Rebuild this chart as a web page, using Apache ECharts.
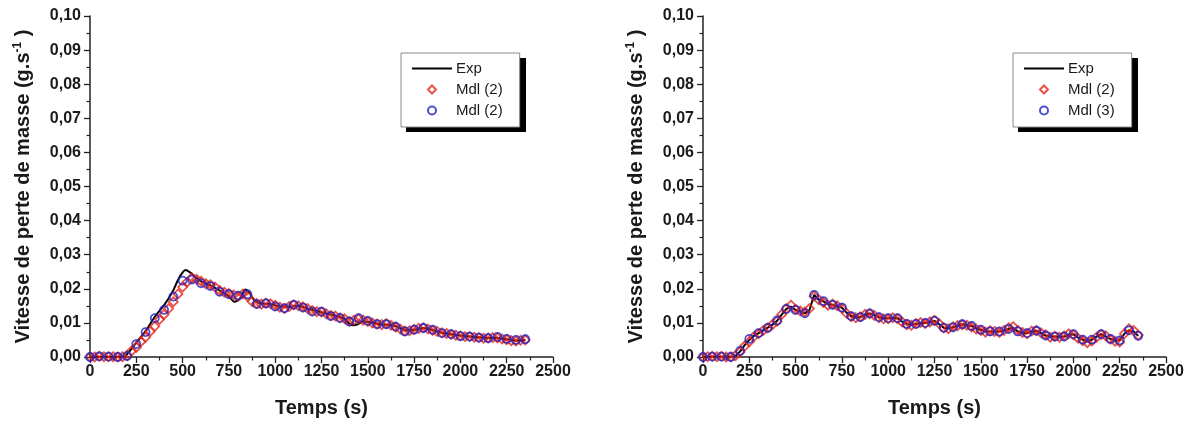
<!DOCTYPE html>
<html><head><meta charset="utf-8">
<script src="https://cdn.jsdelivr.net/npm/echarts@6/dist/echarts.min.js"></script>
<style>html,body{margin:0;padding:0;background:#fff}#c{width:1190px;height:423px}</style>
</head><body><div id="c"></div>
<script>
// ---- time grids (s) ----
const t25 = [0,25,50,75,100,125,150,175,200,225,250,275,300,325,350,375,400,425,450,475,500,525,550,575,600,625,650,675,700,725,750,775,800,825,850,875,900,925,950,975,1000,1025,1050,1075,1100,1125,1150,1175,1200,1225,1250,1275,1300,1325,1350,1375,1400,1425,1450,1475,1500,1525,1550,1575,1600,1625,1650,1675,1700,1725,1750,1775,1800,1825,1850,1875,1900,1925,1950,1975,2000,2025,2050,2075,2100,2125,2150,2175,2200,2225,2250,2275,2300,2325,2350];
const t50 = [0,50,100,150,200,250,300,350,400,450,500,550,600,650,700,750,800,850,900,950,1000,1050,1100,1150,1200,1250,1300,1350,1400,1450,1500,1550,1600,1650,1700,1750,1800,1850,1900,1950,2000,2050,2100,2150,2200,2250,2300,2350];

// ---- left panel ----
const leftExpT = [0,100,180,200,250,300,350,400,425,450,475,500,515,540,575,600,650,700,750,780,810,840,860,890,925,975,1025,1075,1125,1175,1225,1275,1325,1375,1400,1425,1450,1475,1525,1575,1625,1675,1700,1750,1800,1850,1900,1950,2000,2050,2100,2150,2200,2250,2300,2350];
const leftExpV = [0,0,0,0.0008,0.0042,0.0076,0.0118,0.0152,0.0172,0.0196,0.0226,0.0248,0.0255,0.0248,0.0232,0.0222,0.021,0.0195,0.0178,0.0162,0.0172,0.0198,0.0188,0.0165,0.0157,0.0155,0.0148,0.0147,0.015,0.0142,0.0134,0.0128,0.0121,0.0112,0.0098,0.0093,0.0097,0.0104,0.0101,0.0095,0.0094,0.0085,0.0078,0.008,0.0085,0.0079,0.0071,0.0067,0.0063,0.006,0.0058,0.0056,0.0056,0.0052,0.0048,0.005];
const leftMdlA = [0,0,0.0002,0.0001,0.0001,0.0001,0,0.0001,0.0004,0.0018,
  0.0028,0.0045,0.0058,0.0075,0.009,0.011,0.0125,0.0142,0.0162,0.0185,
  0.0205,0.022,0.0232,0.0228,0.0222,0.0215,0.0212,0.0205,0.0195,0.019,
  0.0186,0.0182,0.0178,0.0185,0.0178,0.0163,0.0157,0.0155,0.0158,0.0156,
  0.0152,0.0146,0.0142,0.0148,0.0153,0.015,0.0147,0.0142,0.0136,0.0133,
  0.0132,0.0127,0.0122,0.012,0.0115,0.0112,0.0105,0.0108,0.0112,0.0108,
  0.0104,0.01,0.0097,0.0095,0.0098,0.0093,0.0088,0.0082,0.0076,0.0077,
  0.0081,0.0084,0.0086,0.0082,0.0078,0.0075,0.0071,0.0069,0.0066,0.0064,
  0.0062,0.006,0.006,0.0058,0.0057,0.0055,0.0056,0.0057,0.0056,0.0053,
  0.0051,0.0048,0.0047,0.0049,0.005];
const leftMdlB = [0,0.0002,0.0001,0,0.0003,0.0038,0.0073,0.0114,0.0138,0.0177,
  0.0224,0.0227,0.0216,0.0208,0.0191,0.0184,0.018,0.0184,0.0155,0.0157,
  0.0148,0.0143,0.0153,0.0145,0.0133,0.0133,0.012,0.0114,0.0104,0.0114,
  0.0106,0.0096,0.0096,0.0089,0.0075,0.008,0.0085,0.008,0.007,0.0067,
  0.0061,0.006,0.0057,0.0055,0.0059,0.0053,0.005,0.0052];

// ---- right panel ----
const rightExp = [0,0,0.0001,0.0001,0.0001,0,0,0.0003,0.0016,0.0035,
  0.005,0.0062,0.007,0.0078,0.0086,0.0095,0.0106,0.0124,0.0141,0.0148,
  0.0138,0.0134,0.0128,0.0138,0.0182,0.0168,0.0163,0.0155,0.0153,0.0149,
  0.0145,0.013,0.012,0.0116,0.0117,0.0124,0.0128,0.0123,0.0117,0.0113,
  0.0114,0.0115,0.0114,0.0104,0.0097,0.0094,0.0097,0.01,0.01,0.0103,
  0.0106,0.0096,0.0086,0.0084,0.0087,0.0092,0.0096,0.0093,0.0091,0.0084,
  0.008,0.0075,0.0075,0.0075,0.0075,0.0078,0.0082,0.0086,0.0075,0.0071,
  0.007,0.0075,0.0077,0.007,0.0063,0.006,0.006,0.0059,0.006,0.0065,
  0.0067,0.0057,0.0051,0.0045,0.0051,0.006,0.0067,0.006,0.0053,0.0048,
  0.0049,0.0068,0.0078,0.0075,0.0062];
const rightMdl2 = [0,0.0001,0.0002,0.0001,0.0002,0,0.0001,0.0004,0.0015,0.0032,
  0.0045,0.006,0.0068,0.0078,0.0085,0.0095,0.0105,0.0125,0.0142,0.0152,
  0.014,0.0135,0.0132,0.0142,0.0178,0.0168,0.016,0.0152,0.0155,0.015,
  0.0143,0.0128,0.0118,0.0115,0.0118,0.0125,0.0127,0.0122,0.0115,0.0112,
  0.0112,0.0115,0.0112,0.0103,0.0095,0.0093,0.0098,0.0101,0.0098,0.0103,
  0.0108,0.0098,0.0085,0.0083,0.0089,0.0092,0.0095,0.0093,0.0088,0.0082,
  0.0078,0.0073,0.0077,0.0075,0.0072,0.0078,0.0086,0.0089,0.0078,0.0072,
  0.0068,0.0076,0.0078,0.0071,0.0065,0.0058,0.0061,0.0058,0.0062,0.0068,
  0.0065,0.0055,0.0048,0.0042,0.0047,0.0058,0.0066,0.0062,0.0052,0.0046,
  0.0044,0.0068,0.0083,0.0078,0.0064];
const rightMdl3 = [0,0.0001,0.0001,0,0.0018,0.0053,0.007,0.0086,0.0107,0.0141,
  0.0138,0.0128,0.0182,0.0164,0.0153,0.0145,0.012,0.0117,0.0128,0.0117,
  0.0114,0.0114,0.0097,0.0097,0.01,0.0106,0.0086,0.0087,0.0096,0.0091,
  0.008,0.0075,0.0075,0.0082,0.0075,0.007,0.0077,0.0063,0.006,0.006,
  0.0067,0.0051,0.0051,0.0067,0.0053,0.0049,0.0078,0.0062];

// ---- labels ----
const legendLabels = {expL:'Exp', aL:'Mdl (2)', bL:'Mdl (2)', expR:'Exp', aR:'Mdl (2)', bR:'Mdl (3)'};
const xTitle = 'Temps (s)';
const yTitleMain = 'Vitesse de perte de masse (g.s';
const yTitleSup = '-1';

const zip = (xs, ys) => xs.map((x, i) => [x, ys[i]]);

const FONT = 'Arial, "Liberation Sans", sans-serif';
const INK = '#1a1a1a';
const RED = '#e3261c';
const BLUE = '#2222c4';
const LINE_ICON = 'path://M0 0H40V2H0Z';
const DIAMOND_ICON = 'path://M5 0L10 5L5 10L0 5Z';

function xAx(gi) {
  return {
    gridIndex: gi, type: 'value', min: 0, max: 2500, interval: 250,
    axisLine: {show: true, onZero: false, lineStyle: {color: '#222', width: 1.5}},
    axisTick: {show: true, inside: false, length: 6, lineStyle: {color: '#222', width: 1.3}},
    minorTick: {show: true, splitNumber: 2, length: 3.5, lineStyle: {color: '#222', width: 1.2}},
    splitLine: {show: false},
    axisLabel: {fontFamily: FONT, fontWeight: 'bold', fontSize: 16, color: INK, margin: 7,
      formatter: v => String(v)},
    name: xTitle, nameLocation: 'middle', nameGap: 41,
    nameTextStyle: {fontFamily: FONT, fontWeight: 'bold', fontSize: 20, color: INK}
  };
}
function yAx(gi) {
  return {
    gridIndex: gi, type: 'value', min: 0, max: 0.1, interval: 0.01,
    axisLine: {show: true, onZero: false, lineStyle: {color: '#222', width: 1.5}},
    axisTick: {show: true, inside: false, length: 6, lineStyle: {color: '#222', width: 1.3}},
    minorTick: {show: true, splitNumber: 2, length: 3.5, lineStyle: {color: '#222', width: 1.2}},
    splitLine: {show: false},
    axisLabel: {fontFamily: FONT, fontWeight: 'bold', fontSize: 16, color: INK, margin: 9,
      formatter: v => v.toFixed(2).replace('.', ',')},
    name: '{a|' + yTitleMain + '}{s|' + yTitleSup + '}{a| )}',
    nameLocation: 'middle', nameGap: 56,
    nameTextStyle: {fontFamily: FONT, fontWeight: 'bold', fontSize: 20, color: INK,
      rich: {a: {fontFamily: FONT, fontWeight: 'bold', fontSize: 20, color: INK},
             s: {fontFamily: FONT, fontWeight: 'bold', fontSize: 12, color: INK, verticalAlign: 'top', padding: [0,0,10,0]}}}
  };
}
function legend(left, keys) {
  return {
    orient: 'vertical', left: left, top: 53, width: 120, z: 10,
    data: [
      {name: keys[0], icon: LINE_ICON},
      {name: keys[1], icon: DIAMOND_ICON},
      {name: keys[2], icon: 'circle'}
    ],
    selectedMode: false,
    itemWidth: 40, itemHeight: 8, itemGap: 4,
    padding: [7, 17, 8, 11],
    backgroundColor: '#fff', borderColor: '#8a8a8a', borderWidth: 1,
    formatter: n => legendLabels[n],
    textStyle: {fontFamily: FONT, fontSize: 15, color: INK, lineHeight: 17, padding: [0,0,0,-1]}
  };
}
function expLine(name, gi, data) {
  return {name, type: 'line', xAxisIndex: gi, yAxisIndex: gi, data, symbol: 'none',
    smooth: gi === 0 ? 0.35 : false, lineStyle: {color: '#000', width: 2}, itemStyle: {color: '#000'}, z: 2};
}
function markers(name, gi, data, sym, size, color, z) {
  return {name, type: 'scatter', xAxisIndex: gi, yAxisIndex: gi, data, symbol: sym, symbolSize: size,
    itemStyle: {color: 'rgba(255,255,255,0)', borderColor: color, borderWidth: 1.8}, z};
}

const chart = echarts.init(document.getElementById('c'), null, {renderer: 'canvas'});
chart.setOption({
  animation: false,
  backgroundColor: '#fff',
  grid: [
    {left: 90, top: 16, width: 463, height: 343},
    {left: 703, top: 16, width: 463, height: 343}
  ],
  graphic: [
    {type: 'rect', shape: {x: 406, y: 58, width: 120, height: 74}, style: {fill: '#000'}, z: 5},
    {type: 'rect', shape: {x: 1018, y: 58, width: 120, height: 74}, style: {fill: '#000'}, z: 5}
  ],
  xAxis: [xAx(0), xAx(1)],
  yAxis: [yAx(0), yAx(1)],
  legend: [legend(401, ['expL', 'aL', 'bL']), legend(1013, ['expR', 'aR', 'bR'])],
  series: [
    expLine('expL', 0, zip(leftExpT, leftExpV)),
    markers('aL', 0, zip(t25, leftMdlA), 'diamond', 9, RED, 3),
    markers('bL', 0, zip(t50, leftMdlB), 'circle', 8, BLUE, 4),
    expLine('expR', 1, zip(t25, rightExp)),
    markers('aR', 1, zip(t25, rightMdl2), 'diamond', 9, RED, 3),
    markers('bR', 1, zip(t50, rightMdl3), 'circle', 8, BLUE, 4)
  ]
});
</script>
</body></html>
